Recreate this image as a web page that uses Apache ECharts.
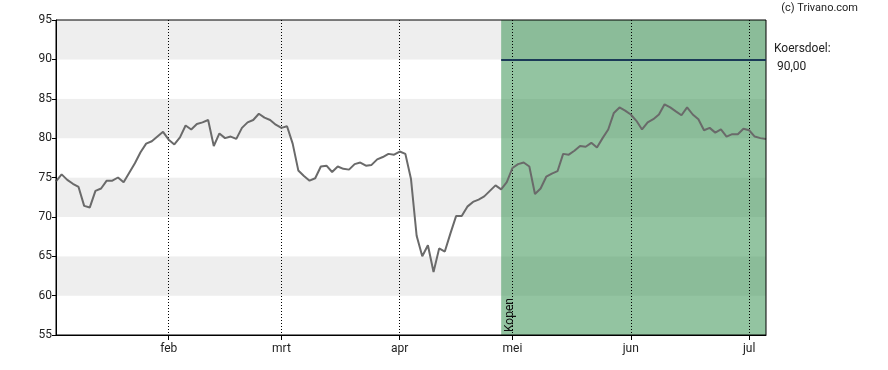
<!DOCTYPE html>
<html><head><meta charset="utf-8">
<script src="https://cdn.jsdelivr.net/npm/echarts@6/dist/echarts.min.js"></script>
<style>html,body{margin:0;padding:0;background:#fff}#c{width:888px;height:370px}</style>
</head><body><div id="c"></div>
<script>
var dates = [
'2025-01-06','2025-01-07','2025-01-08','2025-01-09','2025-01-10','2025-01-13','2025-01-14','2025-01-15','2025-01-16','2025-01-17',
'2025-01-20','2025-01-21','2025-01-22','2025-01-23','2025-01-24','2025-01-27','2025-01-28','2025-01-29','2025-01-30','2025-01-31',
'2025-02-03','2025-02-04','2025-02-05','2025-02-06','2025-02-07','2025-02-10','2025-02-11','2025-02-12','2025-02-13','2025-02-14',
'2025-02-17','2025-02-18','2025-02-19','2025-02-20','2025-02-21','2025-02-24','2025-02-25','2025-02-26','2025-02-27','2025-02-28',
'2025-03-03','2025-03-04','2025-03-05','2025-03-06','2025-03-07','2025-03-10','2025-03-11','2025-03-12','2025-03-13','2025-03-14',
'2025-03-17','2025-03-18','2025-03-19','2025-03-20','2025-03-21','2025-03-24','2025-03-25','2025-03-26','2025-03-27','2025-03-28',
'2025-03-31','2025-04-01','2025-04-02','2025-04-03','2025-04-04','2025-04-07','2025-04-08','2025-04-09','2025-04-10','2025-04-11',
'2025-04-14','2025-04-15','2025-04-16','2025-04-17','2025-04-22','2025-04-23','2025-04-24','2025-04-25','2025-04-28','2025-04-29',
'2025-04-30','2025-05-02','2025-05-05','2025-05-06','2025-05-07','2025-05-08','2025-05-09','2025-05-12','2025-05-13','2025-05-14',
'2025-05-15','2025-05-16','2025-05-19','2025-05-20','2025-05-21','2025-05-22','2025-05-23','2025-05-26','2025-05-27','2025-05-28',
'2025-05-29','2025-05-30','2025-06-02','2025-06-03','2025-06-04','2025-06-05','2025-06-06','2025-06-09','2025-06-10','2025-06-11',
'2025-06-12','2025-06-13','2025-06-16','2025-06-17','2025-06-18','2025-06-19','2025-06-20','2025-06-23','2025-06-24','2025-06-25',
'2025-06-26','2025-06-27','2025-06-30','2025-07-01','2025-07-02','2025-07-03','2025-07-04'
];
var prices = [
74.5,75.4,74.7,74.2,73.8,71.4,71.2,73.3,73.6,74.6,
74.6,75.0,74.4,75.6,76.8,78.2,79.3,79.6,80.2,80.8,
79.8,79.2,80.1,81.6,81.1,81.8,82.0,82.3,79.0,80.6,
80.0,80.2,79.9,81.3,82.0,82.3,83.1,82.6,82.3,81.7,
81.3,81.5,79.3,75.9,75.2,74.6,74.9,76.4,76.5,75.7,
76.4,76.1,76.0,76.7,76.9,76.5,76.6,77.3,77.6,78.0,
77.9,78.3,78.0,74.8,67.6,65.0,66.4,63.0,66.0,65.6,
67.9,70.1,70.1,71.3,71.9,72.2,72.6,73.3,74.0,73.5,
74.4,76.2,76.7,76.9,76.4,72.9,73.6,75.1,75.5,75.8,
78.0,77.9,78.4,79.0,78.9,79.4,78.8,80.0,81.1,83.2,
83.9,83.5,83.0,82.2,81.1,82.0,82.4,83.0,84.3,83.9,
83.4,82.9,83.9,83.0,82.4,81.0,81.3,80.7,81.1,80.2,
80.5,80.5,81.2,81.0,80.2,80.0,79.9
];
var monthLabels = {'01':'jan','02':'feb','03':'mrt','04':'apr','05':'mei','06':'jun','07':'jul'};
var adviceStart = '2025-04-29';
var adviceLabel = 'Kopen';
var targetPrice = 90;
var targetText = 'Koersdoel:';
var targetValueText = '90,00';
var yTicks = [55,60,65,70,75,80,85,90,95];

function isMonthStart(idx){
  if (idx === 0) return false;
  return dates[idx].slice(5,7) !== dates[idx-1].slice(5,7);
}

var chart = echarts.init(document.getElementById('c'), null, {renderer:'canvas'});
var lastDate = dates[dates.length-1];
var option = {
  animation:false,
  grid:{left:56, right:122, top:20, bottom:35, show:true, borderColor:'#000', borderWidth:1, backgroundColor:'transparent', z:5},
  xAxis:{
    type:'category', data:dates, boundaryGap:false, z:3,
    axisLine:{show:true, lineStyle:{color:'#000', width:1}},
    axisTick:{show:true, interval:function(i){return isMonthStart(i);}, length:5, lineStyle:{color:'#000'}},
    axisLabel:{interval:function(i){return isMonthStart(i);}, formatter:function(v){return monthLabels[v.slice(5,7)];},
      color:'#222', fontSize:12, fontFamily:'Roboto', margin:8},
    splitLine:{show:true, interval:function(i){return isMonthStart(i);}, lineStyle:{color:'#000', width:1, type:[1,2]}}
  },
  yAxis:{
    type:'value', min:yTicks[0], max:yTicks[yTicks.length-1], interval:5, z:0,
    axisLine:{show:true, lineStyle:{color:'#000'}},
    axisTick:{show:true, length:4, lineStyle:{color:'#000'}},
    axisLabel:{color:'#222', fontSize:12, fontFamily:'Roboto', margin:4},
    splitLine:{show:false},
    splitArea:{show:true, areaStyle:{color:['#ffffff','#eeeeee']}}
  },
  series:[
    {type:'line', data:[], z:1, silent:true,
      markArea:{silent:true, itemStyle:{color:'rgba(51,144,78,0.53)'},
        label:{show:false},
        data:[[{xAxis:adviceStart},{xAxis:lastDate}]]}
    },
    {type:'line', data:prices, z:4, showSymbol:false, symbol:'none',
      lineStyle:{color:'#6a6a6a', width:2}, itemStyle:{color:'#6a6a6a'},
      markLine:{silent:true, symbol:['none','none'], label:{show:false},
        lineStyle:{color:'#1b3a57', width:2, type:'solid'},
        data:[[{coord:[adviceStart,targetPrice]},{coord:[lastDate,targetPrice]}]]}
    }
  ],
  graphic:[
    {type:'text', right:30, top:3, style:{text:'(c) Trivano.com', fill:'#222', font:'11px Roboto'}},
    {type:'text', left:774, top:43, style:{text:targetText, fill:'#222', font:'12px Roboto'}},
    {type:'text', left:777, top:61, style:{text:targetValueText, fill:'#222', font:'12px Roboto'}}
  ]
};
chart.setOption(option);
var px = chart.convertToPixel({xAxisIndex:0, yAxisIndex:0}, [adviceStart, 55]);
chart.setOption({graphic:[
  {type:'text', left:774, top:43, style:{text:targetText, fill:'#222', font:'12px Roboto'}},
  {type:'text', left:777, top:61, style:{text:targetValueText, fill:'#222', font:'12px Roboto'}},
  {type:'text', right:30, top:3, style:{text:'(c) Trivano.com', fill:'#222', font:'11px Roboto'}},
  {type:'text', x:px[0]+3, y:px[1]-3, rotation:Math.PI/2, z:10,
    style:{text:adviceLabel, fill:'#111', font:'12px Roboto', textAlign:'left', textVerticalAlign:'top'}}
]}, {replaceMerge:['graphic']});
</script></body></html>
